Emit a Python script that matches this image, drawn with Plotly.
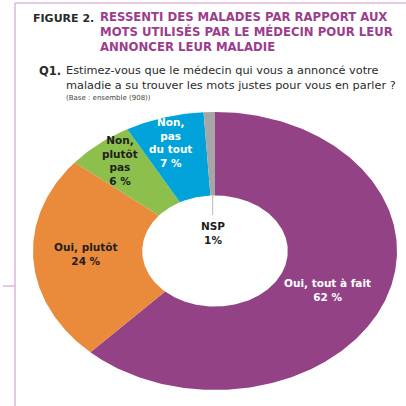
import numpy as np
import plotly.graph_objects as go

# ---- data ----
categories = ["Oui, tout à fait", "Oui, plutôt", "Non, plutôt pas", "Non, pas du tout", "NSP"]
values = [62, 24, 6, 7, 1]
label_lines = [["Oui, tout à fait"], ["Oui, plutôt"], ["Non,", "plutôt", "pas"], ["Non,", "pas", "du tout"], ["NSP"]]
pct_text = ["62 %", "24 %", "6 %", "7 %", "1%"]
colors = ["#934385", "#E98B3B", "#8CBF4C", "#00A3D9", "#A6A6A6"]
text_colors = ["white", "#1e1e1e", "#1e1e1e", "white", "#1e1e1e"]

W, H = 406, 406
L, R, T, B = 33, 9, 112, 16
pw, ph = W - L - R, H - T - B
HOLE = 0.4
FONT = "DejaVu Sans"


def px(x):
    return (x - L) / pw


def py(y):
    return (H - B - y) / ph


fig = go.Figure()

total = float(sum(values))
cum = np.concatenate([[0], np.cumsum(values)]) / total
for i, cat in enumerate(categories):
    t0, t1 = 2 * np.pi * cum[i], 2 * np.pi * cum[i + 1]
    n = max(8, int(400 * (cum[i + 1] - cum[i])))
    th = np.linspace(t0, t1, n)
    xs = np.concatenate([np.sin(th), HOLE * np.sin(th[::-1])])
    ys = np.concatenate([np.cos(th), HOLE * np.cos(th[::-1])])
    fig.add_trace(go.Scatter(x=np.append(xs, xs[0]), y=np.append(ys, ys[0]), mode="lines",
                             fill="toself", fillcolor=colors[i], line=dict(width=0, color=colors[i]),
                             name=cat, hoverinfo="text", text=f"{cat}: {values[i]} %",
                             hoveron="fills", showlegend=False))

# label block centres (layout, pixel)
label_pos = [(327, 290), (86, 254), (120, 160), (170, 142), (213, 233)]
annotations = []
for i in range(len(categories)):
    lines = label_lines[i] + [pct_text[i]]
    cx, cy = label_pos[i]
    annotations.append(dict(x=px(cx), y=py(cy), text="<b>" + "<br>".join(lines) + "</b>",
                            xanchor="center", yanchor="middle", align="center",
                            font=dict(family=FONT, size=10.5, color=text_colors[i])))

# NSP leader line from grey slice
mid = 2 * np.pi * (cum[-2] + cum[-1]) / 2
shapes = [dict(type="line", xref="x", yref="y", x0=HOLE * np.sin(mid), y0=HOLE * np.cos(mid),
               x1=HOLE * np.sin(mid), y1=(251 - 215) / (ph / 2),
               line=dict(color="#b8b8b8", width=1))]

# frame lines
fc = "#DDB8DD"
shapes += [
    dict(type="line", xref="paper", yref="paper", x0=px(15), x1=px(15), y0=py(3), y1=py(406), line=dict(color=fc, width=1.5)),
    dict(type="line", xref="paper", yref="paper", x0=px(15), x1=px(406), y0=py(3), y1=py(3), line=dict(color=fc, width=1.5)),
    dict(type="line", xref="paper", yref="paper", x0=px(3), x1=px(15), y0=py(286), y1=py(286), line=dict(color=fc, width=1.5)),
]

annotations += [
    dict(x=px(31), y=py(18), text="<b>FIGURE 2.</b>", xanchor="left", yanchor="middle",
         font=dict(family=FONT, size=11, color="#2a2a2a")),
    dict(x=px(98), y=py(32), text="<b>RESSENTI DES MALADES PAR RAPPORT AUX<br>"
                                   "MOTS UTILISÉS PAR LE MÉDECIN POUR LEUR<br>ANNONCER LEUR MALADIE</b>",
         xanchor="left", yanchor="middle", align="left",
         font=dict(family=FONT, size=11.7, color="#9B3D8D")),
    dict(x=px(37), y=py(71), text="<b>Q1.</b>", xanchor="left", yanchor="middle",
         font=dict(family=FONT, size=11.5, color="#2a2a2a")),
    dict(x=px(64), y=py(77.5), text="Estimez-vous que le médecin qui vous a annoncé votre<br>"
                                   "maladie a su trouver les mots justes pour vous en parler ?",
         xanchor="left", yanchor="middle", align="left",
         font=dict(family=FONT, size=11.3, color="#2a2a2a")),
    dict(x=px(64), y=py(98), text="(Base : ensemble (908))", xanchor="left", yanchor="middle",
         font=dict(family=FONT, size=7, color="#444444")),
]
for a in annotations:
    a.setdefault("xref", "paper")
    a.setdefault("yref", "paper")
    a.setdefault("showarrow", False)

fig.update_layout(
    width=W, height=H, autosize=False,
    margin=dict(l=L, r=R, t=T, b=B, pad=0),
    paper_bgcolor="white", plot_bgcolor="white",
    xaxis=dict(range=[-1, 1], visible=False, fixedrange=True),
    yaxis=dict(range=[-1, 1], visible=False, fixedrange=True),
    annotations=annotations, shapes=shapes, showlegend=False,
)
fig.write_html("out.html", config={"displayModeBar": False},
               post_script="document.body.style.margin='0px';")
